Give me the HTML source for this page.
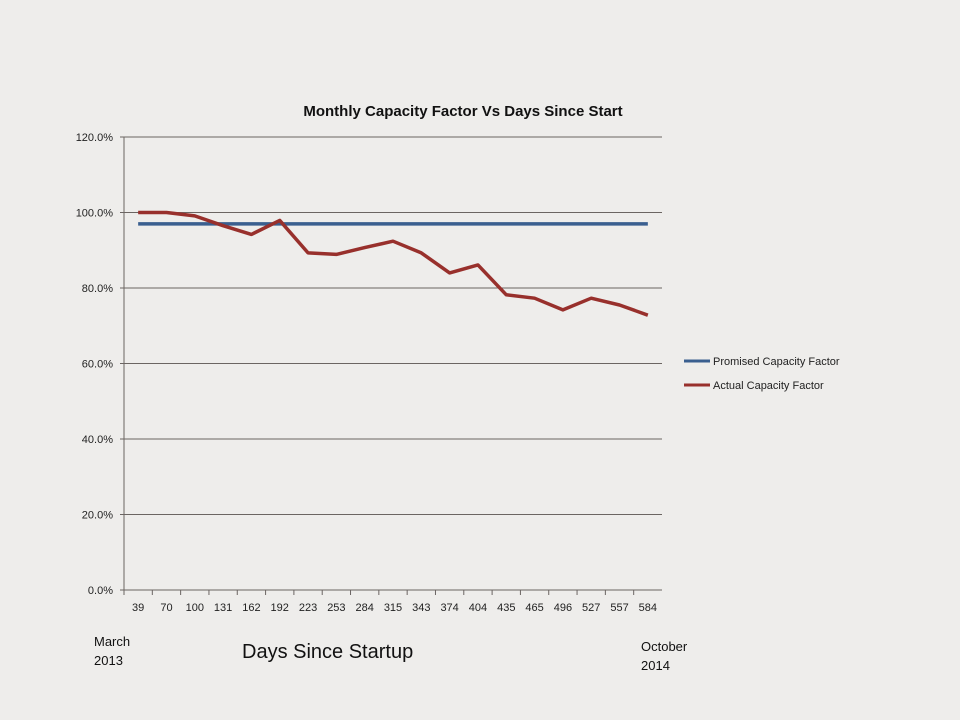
<!DOCTYPE html>
<html><head><meta charset="utf-8"><style>
html,body{margin:0;padding:0;background:#eeedeb;}
svg{display:block;font-family:"Liberation Sans",Calibri,sans-serif;}
</style></head><body>
<svg id="chart" width="960" height="720">
<rect width="960" height="720" fill="#eeedeb"/>
<text x="463" y="116" text-anchor="middle" font-size="15" font-weight="bold" fill="#111">Monthly Capacity Factor Vs Days Since Start</text>
<g id="grid"></g><g id="series"></g><g id="xlabels"></g>
<g>
<line x1="684" y1="361" x2="710" y2="361" stroke="#3a5f8f" stroke-width="3"/>
<text x="713" y="365" font-size="11" fill="#222">Promised Capacity Factor</text>
<line x1="684" y1="385" x2="710" y2="385" stroke="#98302c" stroke-width="3"/>
<text x="713" y="389" font-size="11" fill="#222">Actual Capacity Factor</text>
</g>
<text x="94" y="646" font-size="13" fill="#111">March</text>
<text x="94" y="665" font-size="13" fill="#111">2013</text>
<text x="242" y="658" font-size="20" fill="#111">Days Since Startup</text>
<text x="641" y="651" font-size="13" fill="#111">October</text>
<text x="641" y="670" font-size="13" fill="#111">2014</text>
</svg>
<script>
const categories=[39,70,100,131,162,192,223,253,284,315,343,374,404,435,465,496,527,557,584];
const promised=[97,97,97,97,97,97,97,97,97,97,97,97,97,97,97,97,97,97,97];
const actual=[100,100,99.1,96.5,94.2,97.9,89.3,88.9,90.7,92.4,89.3,84.0,86.1,78.2,77.3,74.2,77.3,75.5,72.8];
const yTicks=[0,20,40,60,80,100,120];
const X0=124,X1=662,Y0=590,Y1=137;
const NS="http://www.w3.org/2000/svg";
const bw=(X1-X0)/categories.length;
function xs(i){return X0+bw*(i+0.5);}
function ys(v){return Y0-(v/120)*(Y0-Y1);}
function mk(t,a,p){const e=document.createElementNS(NS,t);for(const k in a)e.setAttribute(k,a[k]);p.appendChild(e);return e;}
const grid=document.getElementById('grid');
yTicks.forEach(v=>{
  const l=mk('line',{x1:X0-4,x2:X1,y1:ys(v),y2:ys(v),stroke:'#6b6562','stroke-width':1},grid);
  
  
  const t=mk('text',{x:X0-11,y:ys(v)+4,'text-anchor':'end','font-size':11,fill:'#222'},grid);
  t.textContent=v.toFixed(1)+'%';
  
  
});
const ax=mk('line',{x1:X0,x2:X0,y1:Y1,y2:Y0,stroke:'#6b6562','stroke-width':1},grid);


const xl=document.getElementById('xlabels');
categories.forEach((c,i)=>{
  const tk=mk('line',{x1:X0+bw*i,x2:X0+bw*i,y1:Y0,y2:Y0+5,stroke:'#6b6562'},xl);
  
  
  const t=mk('text',{x:xs(i),y:Y0+21,'text-anchor':'middle','font-size':11,fill:'#222'},xl);
  t.textContent=c;
  
  
});
const s=document.getElementById('series');
const p1=mk('polyline',{points:promised.map((v,i)=>xs(i)+','+ys(v)).join(' '),fill:'none',stroke:'#3a5f8f','stroke-width':3.5},s);


const p2=mk('polyline',{points:actual.map((v,i)=>xs(i)+','+ys(v)).join(' '),fill:'none',stroke:'#98302c','stroke-width':3.5,'stroke-linejoin':'round'},s);


</script>
</body></html>
